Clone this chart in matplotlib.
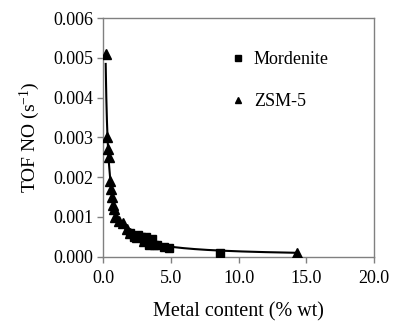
import numpy as np
import matplotlib
matplotlib.use("Agg")
import matplotlib.pyplot as plt
from matplotlib.ticker import FormatStrFormatter

# ZSM-5 samples (metal % wt, TOF NO s^-1)
zsm5_x = [0.2, 0.3, 0.4, 0.45, 0.5, 0.6, 0.7, 0.75, 0.8, 0.9, 1.2, 1.5, 1.8, 2.0, 2.5, 3.0, 14.3]
zsm5_y = [0.0051, 0.0030, 0.0027, 0.0025, 0.0019, 0.0017, 0.0015, 0.0013, 0.0012, 0.0010,
          0.0009, 0.00085, 0.0007, 0.0006, 0.0005, 0.0004, 0.0001]

# Mordenite samples
mord_x = [2.0, 2.3, 2.6, 2.8, 3.0, 3.2, 3.4, 3.6, 3.8, 4.0, 4.5, 4.9, 8.6]
mord_y = [0.0006, 0.0005, 0.00055, 0.0005, 0.0004, 0.0005, 0.0003, 0.00045, 0.0003,
          0.0003, 0.00025, 0.00022, 0.0001]

plt.rcParams['font.family'] = ['Liberation Serif', 'DejaVu Serif']
plt.rcParams['mathtext.fontset'] = 'custom'
plt.rcParams['mathtext.rm'] = 'Liberation Serif'
plt.rcParams['mathtext.it'] = 'Liberation Serif:italic'

fig = plt.figure(figsize=(3.93, 3.31), dpi=100)
ax = fig.add_axes([0.262, 0.225, 0.69, 0.72])

# power-law trend fitted to all points
all_x = np.array(zsm5_x + mord_x)
all_y = np.array(zsm5_y + mord_y)
b, loga = np.polyfit(np.log(all_x), np.log(all_y), 1)
xs = np.linspace(min(all_x), max(all_x), 300)
ax.plot(xs, np.exp(loga) * xs ** b, color='black', lw=1.5, zorder=2)

ax.plot(mord_x, mord_y, 's', color='black', ms=6, zorder=3, label='Mordenite')
ax.plot(zsm5_x, zsm5_y, '^', color='black', ms=6.5, zorder=3, label='ZSM-5')

ax.set_xlim(0, 20)
ax.set_ylim(0, 0.006)
ax.set_xticks([0, 5, 10, 15, 20])
ax.set_yticks(np.arange(0, 0.0061, 0.001))
ax.xaxis.set_major_formatter(FormatStrFormatter('%.1f'))
ax.yaxis.set_major_formatter(FormatStrFormatter('%.3f'))

for sp in ax.spines.values():
    sp.set_color('#808080')
    sp.set_linewidth(1.0)
ax.tick_params(direction='out', length=4, width=1.0, color='#808080', labelsize=13, pad=3)
ax.tick_params(axis='x', pad=6)

ax.set_xlabel('Metal content (% wt)', fontsize=14.5, labelpad=11)
ax.set_ylabel('TOF NO (s$^{\\mathrm{-1}}$)', fontsize=14, labelpad=8)

leg = ax.legend(loc='upper left', bbox_to_anchor=(0.41, 0.93), frameon=False, fontsize=13,
                markerscale=0.7, handlelength=0.8, handletextpad=0.5, labelspacing=1.4,
                numpoints=1)

fig.savefig('out.png', dpi=100)
